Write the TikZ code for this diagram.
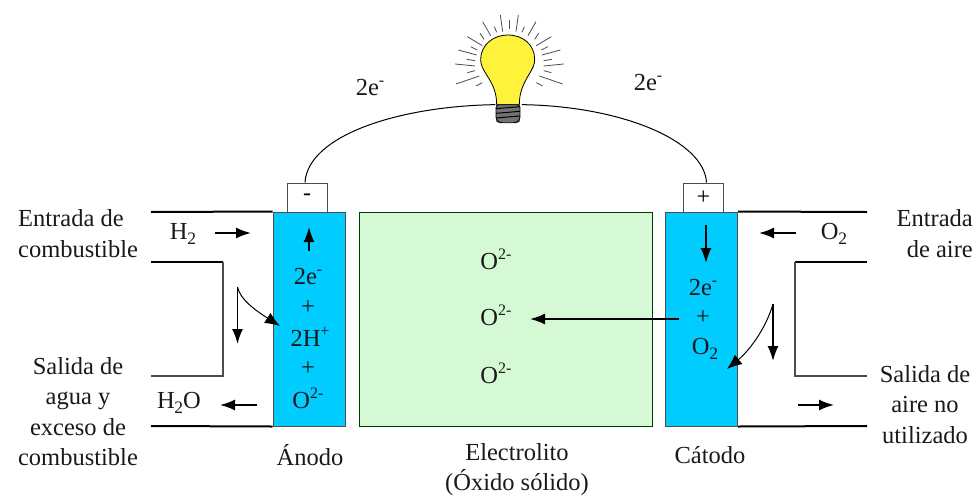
\documentclass[tikz,border=0pt]{standalone}
\usepackage{fontspec}
\setmainfont{Liberation Serif}
\usetikzlibrary{arrows.meta}
\definecolor{cellblue}{HTML}{00CCFF}
\definecolor{elecgreen}{HTML}{D5F9D5}
\definecolor{bulbyellow}{HTML}{FFF23A}
\tikzset{
  x=1pt,y=-1pt,
  lbl/.style={font=\fontsize{24.5}{30.5}\selectfont,align=center,inner sep=0pt,text=black!90},
  cell/.style={draw=black!70,line width=1pt,fill=cellblue,minimum width=72pt,minimum height=214pt,inner sep=0pt},
  electrolyte/.style={draw=black!60!green!60!black,line width=.8pt,fill=elecgreen,minimum width=293pt,minimum height=214pt,inner sep=0pt},
  termbox/.style={draw=black!70,line width=1pt,fill=white,minimum width=40pt,minimum height=29pt,inner sep=0pt,font=\fontsize{24}{24}\selectfont},
  flow/.style={line width=1.7pt,-{Latex[length=15pt,width=11pt]}},
  curveflow/.style={line width=1pt,-{Latex[length=15pt,width=12pt]}},
  pipe/.style={line width=2pt,black},
  wall/.style={line width=1.3pt,black!70},
  wire/.style={line width=1pt,black},
  longray/.style={line width=.8pt,black!70},
}
\newcommand{\Sup}[1]{\raisebox{.42em}{\fontsize{16}{16}\selectfont #1}}
\newcommand{\Sub}[1]{\raisebox{-.2em}{\fontsize{17.5}{17.5}\selectfont #1}}
\begin{document}
\begin{tikzpicture}
\useasboundingbox (0,0) rectangle (974,496);
% cell
\node[cell] (anode) at (309,319) {};
\node[cell] (cathode) at (701.5,319) {};
\node[electrolyte] (elec) at (505.5,319) {};
\node[termbox] (minus) at (307,197.5) {-};
\node[termbox] (plus) at (703.5,197.5) {+};
% pipes
\coordinate (tl) at (151,212); \coordinate (bl) at (151,426);
\coordinate (il) at (151,262); \coordinate (jl) at (151,376);
\coordinate (icl) at (223,262); \coordinate (jcl) at (223,376);
\coordinate (tr) at (867,212); \coordinate (br) at (867,426);
\coordinate (ir) at (867,262); \coordinate (jr) at (867,376);
\coordinate (icr) at (795,262); \coordinate (jcr) at (795,376);
\draw[pipe] (tl) -- (anode.north west);
\draw[pipe] (bl) -- (anode.south west);
\draw[pipe] (il) -- (icl);
\draw[wall] (icl) -- (jcl) -- (jl);
\draw[pipe] (tr) -- (cathode.north east);
\draw[pipe] (br) -- (cathode.south east);
\draw[pipe] (ir) -- (icr);
\draw[wall] (icr) -- (jcr) -- (jr);
% bulb
\begin{scope}[xshift=440pt,x=.3333pt,y=-.3333pt]
\foreach \a/\b/\c/\d in {208/60/208/88,181/45/188/95,235/45/228/95,128/65/152/107,288/65/264/107,82/110/127/137,334/110/289/137,55/150/110/165,361/150/306/165,45/192/105/198,371/192/311/198,48/252/118/228,368/252/298/228}
  \draw[longray] (\a,\b) -- (\c,\d);
\foreach \a/\b/\c/\d in {163/80/170/97,253/80/246/97,120/100/132/118,296/100/284/118,92/140/112/150,324/140/304/150,80/178/105/182,336/178/311/182,82/218/105/212,334/218/311/212,108/258/127/248,308/258/289/248}
  \draw[longray] (\a,\b) -- (\c,\d);
\draw[line width=.8pt,black,fill=bulbyellow] (170,314)
  .. controls (170,280) and (160,255) .. (140,225)
  .. controls (128,205) and (122,195) .. (122,178)
  .. controls (122,135) and (160,105) .. (203,105)
  .. controls (250,105) and (284,135) .. (284,178)
  .. controls (284,195) and (278,205) .. (266,225)
  .. controls (248,255) and (238,280) .. (238,314) -- cycle;
\fill[black!55,rounded corners=2pt] (168,314) rectangle (240,368);
\foreach \y in {326,340,354} \draw[line width=1pt,black] (168,\y) -- (240,\y-6);
\draw[line width=.8pt,black,rounded corners=3pt] (168,314) -- (168,360) -- (180,368) -- (228,368) -- (240,360) -- (240,314) -- cycle;
\coordinate (bulbL) at (166,314);
\coordinate (bulbR) at (246,314);
\end{scope}
% wire
\draw[wire] (minus.north) ++(-2,0) coordinate (mw) .. controls (308,135) and (400,106) .. (bulbL);
\draw[wire] (plus.north) ++(3,0) coordinate (pw) .. controls (704,140) and (620,106) .. (bulbR);
% arrows
\coordinate (a1s) at (215,233); \coordinate (a1e) at (251,233);
\coordinate (a2s) at (309,251); \coordinate (a2e) at (309,227);
\coordinate (a3s) at (237.5,287); \coordinate (a3e) at (237.5,344);
\coordinate (a4e) at (280,326);
\coordinate (a5s) at (257,405); \coordinate (a5e) at (220,405);
\coordinate (c1s) at (706,225); \coordinate (c1e) at (706,263);
\coordinate (c2s) at (796,233); \coordinate (c2e) at (759,233);
\coordinate (c3s) at (773,304); \coordinate (c3e) at (773,361);
\coordinate (c4e) at (727,369);
\coordinate (c5s) at (798,405); \coordinate (c5e) at (834,405);
\coordinate (c6s) at (679,319); \coordinate (c6e) at (530,319);
\draw[flow] (a1s) -- (a1e);
\draw[flow] (a2s) -- (a2e);
\draw[flow] (a3s) -- (a3e);
\draw[curveflow] (a3s) .. controls (240,300) and (258,312) .. (a4e);
\draw[flow] (a5s) -- (a5e);
\draw[flow] (c1s) -- (c1e);
\draw[flow] (c2s) -- (c2e);
\draw[flow] (c3s) -- (c3e);
\draw[curveflow] (c3s) .. controls (766,328) and (750,350) .. (c4e);
\draw[flow] (c5s) -- (c5e);
\draw[flow] (c6s) -- (c6e);
% labels
\node[lbl] (e1) at (370,88) {2e\Sup{-}};
\node[lbl] (e2) at (648,83) {2e\Sup{-}};
\node[lbl,align=left,anchor=west] (ent1) at (18,233.5) {Entrada de\\combustible};
\node[lbl,align=right,anchor=east] (ent2) at (973,233.5) {Entrada\\de aire};
\node[lbl] (sal1) at (78,411.5) {Salida de\\agua y\\exceso de\\combustible};
\node[lbl] (sal2) at (925,404.5) {Salida de\\aire no\\utilizado};
\node[lbl] (h2) at (183,234) {H\Sub{2}};
\node[lbl] (h2o) at (179,403) {H\kern-.5pt\Sub{2}O};
\node[lbl] (o2r) at (834,234) {O\Sub{2}};
\node[lbl] (ai1) at (308,277) {2e\Sup{-}};
\node[lbl] (ai2) at (308,308) {+};
\node[lbl] (ai3) at (310,337) {2H\Sup{+}};
\node[lbl] (ai4) at (308,369) {+};
\node[lbl] (ai5) at (308,398) {O\Sup{2-}};
\node[lbl] (ci1) at (703,288) {2e\Sup{-}};
\node[lbl] (ci2) at (703,318) {+};
\node[lbl] (ci3) at (705,349) {O\Sub{2}};
\node[lbl] (ox1) at (496,259) {O\Sup{2-}};
\node[lbl] (ox2) at (496,315) {O\Sup{2-}};
\node[lbl] (ox3) at (496,373) {O\Sup{2-}};
\node[lbl] (an) at (310,455) {Ánodo};
\node[lbl] (el) at (517,469.5) {Electrolito\\(Óxido sólido)};
\node[lbl] (ca) at (710,455) {Cátodo};
\end{tikzpicture}
\end{document}
